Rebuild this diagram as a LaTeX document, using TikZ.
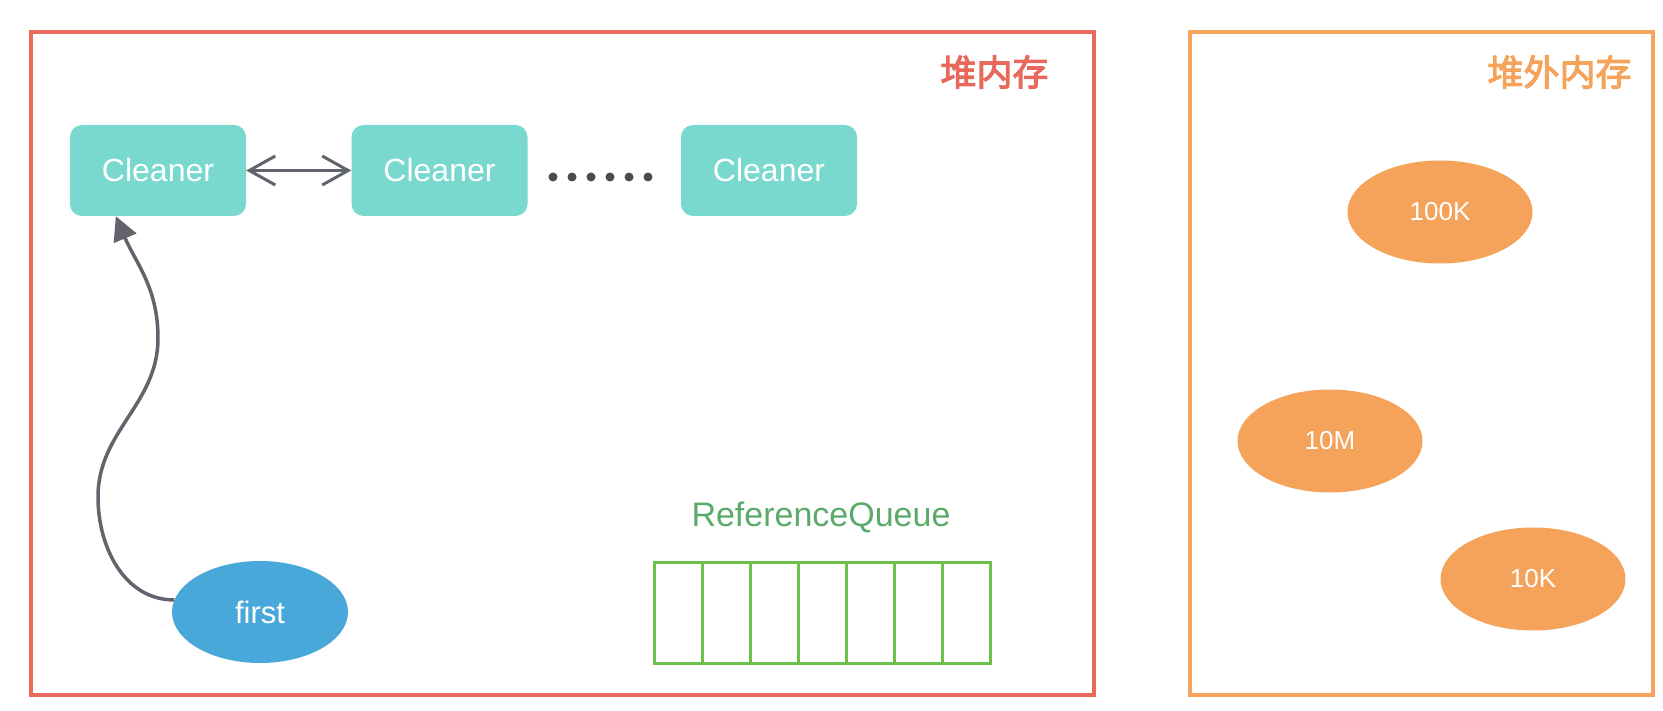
\documentclass[tikz,border=0pt]{standalone}
\usepackage{fontspec}
\setmainfont{Liberation Sans}
\newfontfamily\cjk[FakeBold=3]{Noto Sans CJK SC}
\usetikzlibrary{arrows.meta,shapes.geometric}
\definecolor{heapred}{HTML}{E8695C}
\definecolor{offorange}{HTML}{F5A35A}
\definecolor{cleanerteal}{HTML}{79D9CF}
\definecolor{firstblue}{HTML}{48A8DA}
\definecolor{arrowgray}{HTML}{63636E}
\definecolor{dotgray}{HTML}{4A4A4F}
\definecolor{qgreen}{HTML}{6DC04A}
\definecolor{qtext}{HTML}{5BAA6A}
\begin{document}
\begin{tikzpicture}[x=1pt,y=1pt,
  cleanerbox/.style={fill=cleanerteal, rounded corners=12pt, minimum width=176pt, minimum height=91pt, text=white, font=\fontsize{32}{32}\selectfont, inner sep=0pt},
  blob/.style={ellipse, fill=offorange, minimum width=185pt, minimum height=103pt, text=white, font=\fontsize{26}{26}\selectfont, inner sep=0pt},
  regionbox/.style={line width=3.5pt},
  title/.style={anchor=east, font=\cjk\fontsize{36}{36}\selectfont},
  qcell/.style={draw=qgreen, line width=3pt, minimum width=48pt, minimum height=101pt, inner sep=0pt},
  link/.style={arrowgray, line width=3.5pt}
]
\useasboundingbox (0,0) rectangle (1663,-711);
\fill[white] (0,0) rectangle (1663,-711);

% regions
\draw[regionbox, heapred] (31,-32) rectangle (1094,-695);
\draw[regionbox, offorange] (1190,-32) rectangle (1653,-695);
\node[title, text=heapred] (heaptitle) at (1052,-72) {堆内存};
\node[title, text=offorange] (offtitle) at (1635,-72) {堆外内存};

% cleaners
\node[cleanerbox] (c1) at (158,-170.5) {Cleaner};
\node[cleanerbox] (c2) at (439.5,-170.5) {Cleaner};
\node[cleanerbox] (c3) at (769,-170.5) {Cleaner};
\draw[link, line width=3pt, {Straight Barb[length=26pt,width=29pt]}-{Straight Barb[length=26pt,width=29pt]}] (c1.east) -- (c2.west);
\foreach \i in {0,...,5} \fill[dotgray] (553+19*\i,-177) circle (4.5pt);

% first
\node[ellipse, fill=firstblue, minimum width=176pt, minimum height=102pt, text=white, font=\fontsize{31}{31}\selectfont, inner sep=0pt] (first) at (260,-612) {first};
\coordinate (tipc) at ([xshift=46pt]c1.south west);
\draw[link, -{Triangle[length=24pt,width=24pt]}] (first.172) to[out=180,in=-90] (98,-497) to[out=90,in=-90] (158,-338) to[out=90,in=-67] (tipc);

% reference queue
\node[text=qtext, font=\fontsize{34}{34}\selectfont] (rqlabel) at (821,-517) {ReferenceQueue};
\foreach \i in {1,...,7} \node[qcell] (q\i) at (630+48*\i,-612.5) {};

% off-heap blocks
\node[blob] (b100k) at (1440,-212) {100K};
\node[blob] (b10m) at (1330,-441) {10M};
\node[blob] (b10k) at (1533,-579) {10K};
\end{tikzpicture}
\end{document}
